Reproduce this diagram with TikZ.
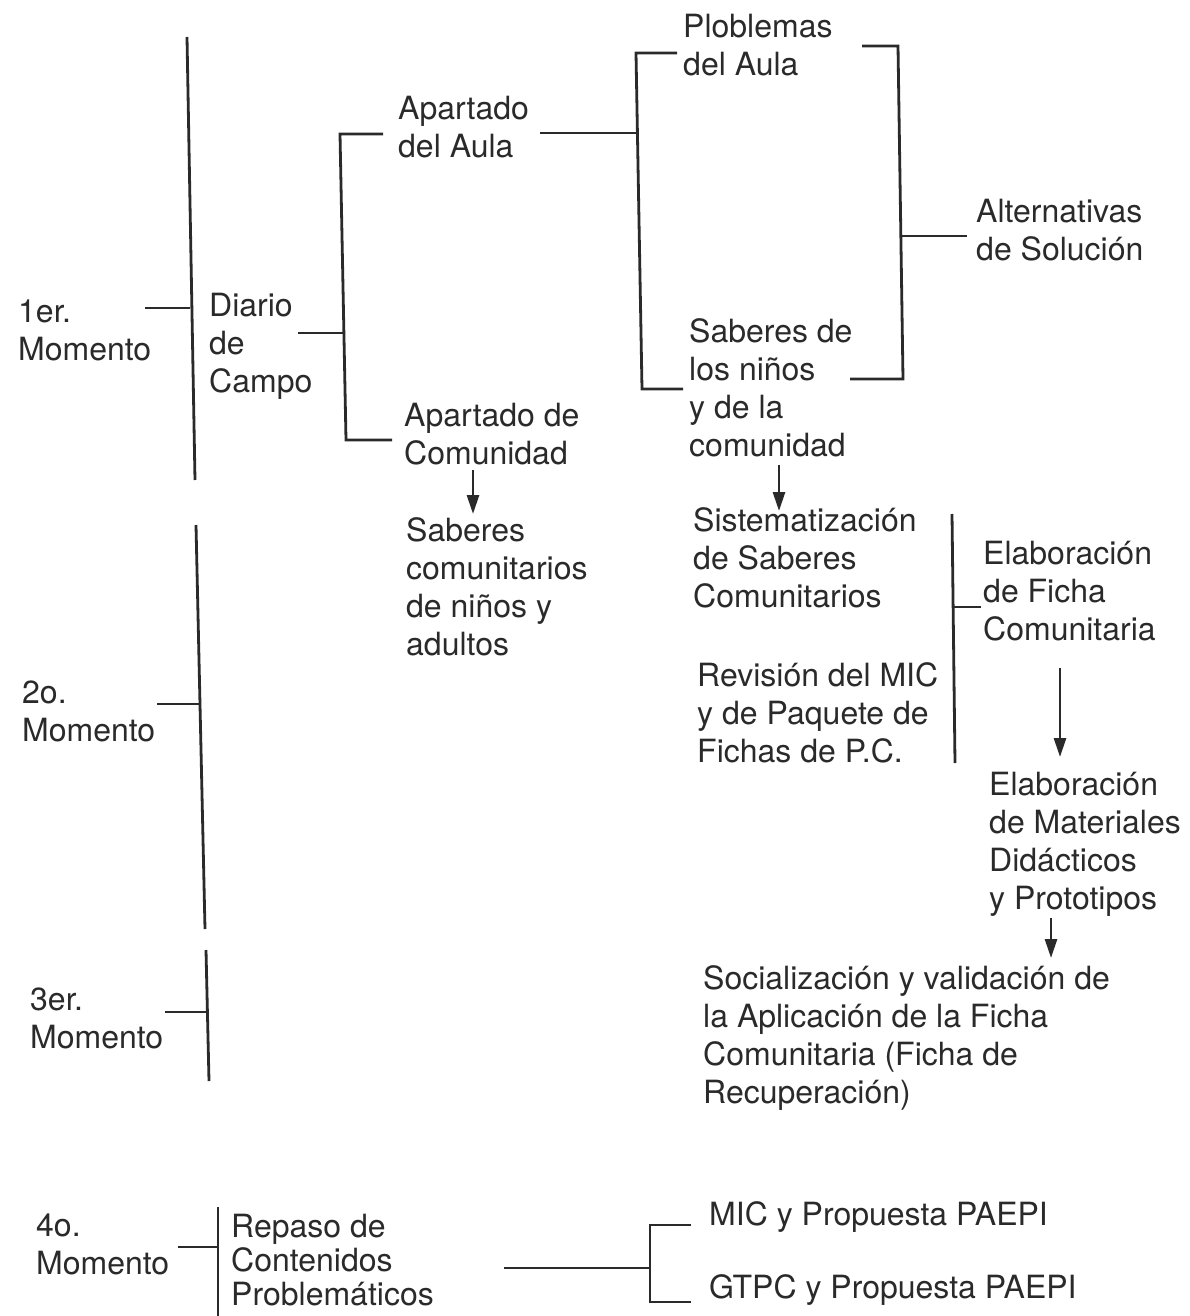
\documentclass[tikz,border=0pt]{standalone}
\usepackage{fontspec}
\setmainfont{TeX Gyre Heros}
\usetikzlibrary{arrows.meta}
\definecolor{ink}{HTML}{2A2A2A}
\begin{document}
\begin{tikzpicture}[x=1pt,y=-1pt,
  txt/.style={anchor=north west, inner sep=0pt, align=left, text=ink,
    font=\fontsize{32}{38}\selectfont, yshift=26.6pt},
  ln/.style={draw=ink, line width=2.8pt},
  arr/.style={ln, -{Triangle[length=19pt,width=12pt]}}]
\useasboundingbox (0,0) rectangle (1189,1316);

% ---- texts
\node[txt] (m1) at (18,322) {\strut 1er.\\Momento};
\node[txt] (m2) at (22,703) {\strut 2o.\\Momento};
\node[txt] (m3) at (30,1010) {\strut 3er.\\Momento};
\node[txt] (m4) at (36,1236) {\strut 4o.\\Momento};
\node[txt] (diario) at (209,316) {\strut Diario\\de\\Campo};
\node[txt] (aula) at (398,119) {\strut Apartado\\del Aula};
\node[txt] (acom) at (404,426) {\strut Apartado de\\Comunidad};
\node[txt] (scom) at (406,541) {\strut Saberes\\comunitarios\\de niños y\\adultos};
\node[txt] (plob) at (683,37) {\strut Ploblemas\\del Aula};
\node[txt] (sab) at (689,342) {\strut Saberes de\\los niños\\y de la\\comunidad};
\node[txt] (alt) at (976,222) {\strut Alternativas\\de Solución};
\node[txt] (sist) at (693,531) {\strut Sistematización\\de Saberes\\Comunitarios};
\node[txt] (rev) at (697,686) {\strut Revisión del MIC\\y de Paquete de\\Fichas de P.C.};
\node[txt] (fich) at (983,564) {\strut Elaboración\\de Ficha\\Comunitaria};
\node[txt] (mat) at (989,795) {\strut Elaboración\\de Materiales\\Didácticos\\y Prototipos};
\node[txt] (soc) at (703,989) {\strut Socialización y validación de\\la Aplicación de la Ficha\\Comunitaria (Ficha de\\Recuperación)};
\node[txt] (rep) at (231,1237) {\strut Repaso de\\[-4pt]Contenidos\\[-4pt]Problemáticos};
\node[txt] (mic) at (709,1225) {\strut MIC y Propuesta PAEPI};
\node[txt] (gtpc) at (709,1298) {\strut GTPC y Propuesta PAEPI};

% ---- coordinates for the bracket structure
\coordinate (v1t) at (187,37);   \coordinate (v1b) at (195,480);
\coordinate (t1a) at (145,308);  \coordinate (t1b) at (190,308);
\coordinate (v2t) at (340,134);  \coordinate (v2b) at (346,440);
\coordinate (v2ta) at (383,134); \coordinate (v2ba) at (392,440);
\coordinate (td1) at (298,333);  \coordinate (td2) at (343,333);
\coordinate (la1) at (540,133);  \coordinate (la2) at (637,133);
\coordinate (v3t) at (636,53);   \coordinate (v3b) at (642,389);
\coordinate (v3ta) at (677,53);  \coordinate (v3ba) at (683,389);
\coordinate (v4t) at (898,46);   \coordinate (v4b) at (903,379);
\coordinate (v4ta) at (862,46);  \coordinate (v4ba) at (850,379);
\coordinate (alta) at (901,236); \coordinate (altb) at (967,236);
\coordinate (a1s) at (473,470);  \coordinate (a1e) at (473,514);
\coordinate (a2s) at (779,465);  \coordinate (a2e) at (779,511);
\coordinate (v5t) at (952,514);  \coordinate (v5b) at (955,763);
\coordinate (t5a) at (954,607);  \coordinate (t5b) at (981,607);
\coordinate (a3s) at (1060,668); \coordinate (a3e) at (1060,757);
\coordinate (a4s) at (1051,918); \coordinate (a4e) at (1051,958);
\coordinate (v6t) at (196,525);  \coordinate (v6b) at (205,929);
\coordinate (t6a) at (157,704);  \coordinate (t6b) at (200,704);
\coordinate (v7t) at (206,950);  \coordinate (v7b) at (209,1081);
\coordinate (t7a) at (165,1012); \coordinate (t7b) at (208,1012);
\coordinate (v8t) at (218,1207); \coordinate (v8b) at (218,1316);
\coordinate (t8a) at (178,1247); \coordinate (t8b) at (218,1247);
\coordinate (r1) at (504,1268);  \coordinate (r2) at (650,1268);
\coordinate (bt) at (650,1225);  \coordinate (bb) at (650,1302);
\coordinate (bta) at (691,1225); \coordinate (bba) at (691,1302);

% ---- lines
\draw[ln] (v1t) -- (v1b);
\draw[ln] (t1a) -- (t1b);
\draw[ln] (v2ta) -- (v2t) -- (v2b) -- (v2ba);
\draw[ln] (td1) -- (td2);
\draw[ln] (la1) -- (la2);
\draw[ln] (v3ta) -- (v3t) -- (v3b) -- (v3ba);
\draw[ln] (v4ta) -- (v4t) -- (v4b) -- (v4ba);
\draw[ln] (alta) -- (altb);
\draw[ln] (v5t) -- (v5b);
\draw[ln] (t5a) -- (t5b);
\draw[ln] (v6t) -- (v6b);
\draw[ln] (t6a) -- (t6b);
\draw[ln] (v7t) -- (v7b);
\draw[ln] (t7a) -- (t7b);
\draw[ln] (v8t) -- (v8b);
\draw[ln] (t8a) -- (t8b);
\draw[ln] (r1) -- (r2);
\draw[ln] (bta) -- (bt) -- (bb) -- (bba);

% ---- arrows
\draw[arr] (a1s) -- (a1e);
\draw[arr] (a2s) -- (a2e);
\draw[arr] (a3s) -- (a3e);
\draw[arr] (a4s) -- (a4e);
\end{tikzpicture}
\end{document}
